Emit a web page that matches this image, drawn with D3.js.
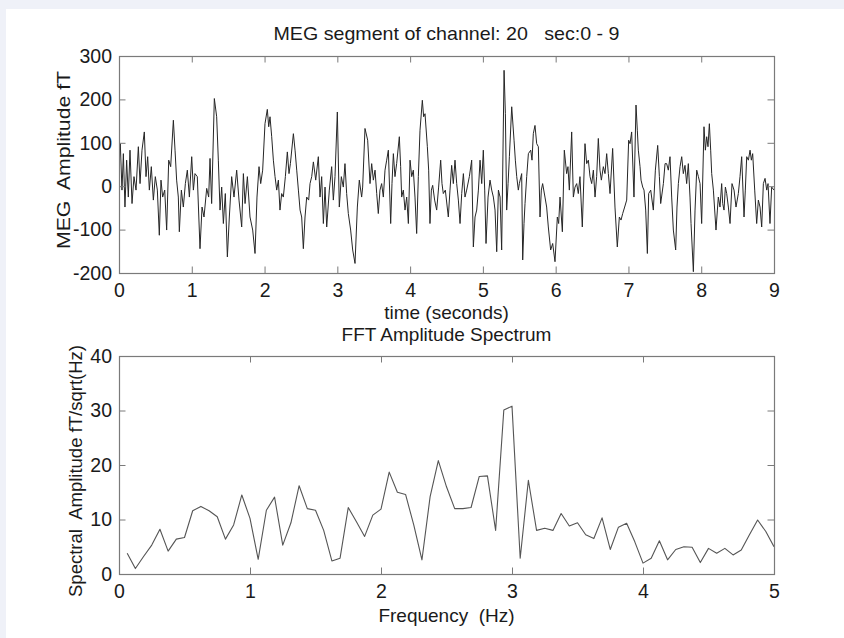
<!DOCTYPE html>
<html><head><meta charset="utf-8">
<script src="https://cdn.jsdelivr.net/npm/d3@7"></script>
<style>
html,body{margin:0;padding:0;background:#eff1f8;}
svg{display:block;font-family:"Liberation Sans",Arial,sans-serif;}
text{white-space:pre;}
</style>
</head><body><svg id="c" width="844" height="638"></svg>
<script>
// ---------- Data ----------
const timeSec = [
0,0.018,0.041,0.06,0.082,0.105,0.128,0.151,0.179,0.206,0.234,0.266,0.289,0.316,0.348,0.371,0.394,0.417,0.444,0.472,
0.499,0.527,0.554,0.577,0.6,0.628,0.655,0.683,0.71,0.747,0.77,0.792,0.815,0.829,0.857,0.884,0.912,0.939,0.967,0.999,
1.022,1.044,1.076,1.113,1.141,1.168,1.205,1.232,1.251,1.273,1.31,1.342,1.365,1.388,1.411,1.434,1.461,1.489,1.516,1.548,
1.58,1.617,1.649,1.686,1.709,1.732,1.764,1.8,1.837,1.869,1.896,1.924,1.947,1.974,2.006,2.038,2.057,2.075,2.098,2.121,
2.144,2.167,2.19,2.212,2.235,2.258,2.286,2.313,2.336,2.355,2.396,2.419,2.442,2.465,2.488,2.51,2.533,2.556,2.579,2.606,
2.625,2.648,2.671,2.703,2.739,2.762,2.785,2.808,2.831,2.854,2.89,2.922,2.945,2.968,3.0,3.027,3.055,3.082,3.105,3.128,
3.151,3.183,3.211,3.243,3.275,3.302,3.334,3.348,3.38,3.417,3.449,3.472,3.495,3.518,3.541,3.563,3.586,3.609,3.632,3.655,
3.678,3.701,3.733,3.751,3.77,3.792,3.815,3.852,3.87,3.884,3.907,3.93,3.953,3.976,3.999,4.022,4.044,4.067,4.09,4.113,
4.136,4.168,4.186,4.205,4.237,4.255,4.273,4.292,4.31,4.337,4.365,4.392,4.42,4.438,4.456,4.484,4.525,4.548,4.571,4.594,
4.617,4.64,4.663,4.686,4.709,4.732,4.754,4.777,4.814,4.846,4.869,4.892,4.915,4.938,4.961,4.984,5.006,5.025,5.043,5.071,
5.098,5.121,5.144,5.167,5.19,5.213,5.236,5.258,5.291,5.309,5.327,5.346,5.364,5.396,5.428,5.446,5.465,5.487,5.501,5.533,
5.547,5.565,5.579,5.602,5.625,5.657,5.675,5.693,5.716,5.739,5.762,5.785,5.803,5.821,5.853,5.876,5.899,5.931,5.959,5.991,
6.023,6.041,6.06,6.092,6.119,6.151,6.169,6.188,6.22,6.243,6.266,6.289,6.311,6.334,6.366,6.403,6.426,6.449,6.472,6.495,
6.518,6.541,6.563,6.586,6.609,6.628,6.655,6.678,6.701,6.724,6.747,6.783,6.815,6.847,6.875,6.898,6.921,6.948,6.976,7.003,
7.022,7.044,7.076,7.104,7.122,7.136,7.159,7.173,7.196,7.214,7.237,7.26,7.278,7.306,7.342,7.37,7.402,7.425,7.443,7.48,
7.503,7.525,7.548,7.571,7.594,7.617,7.649,7.667,7.686,7.709,7.732,7.754,7.777,7.8,7.823,7.846,7.86,7.892,7.915,7.938,
7.961,7.984,8.006,8.038,8.057,8.075,8.093,8.112,8.13,8.144,8.167,8.203,8.222,8.235,8.258,8.281,8.295,8.313,8.332,8.35,
8.373,8.396,8.423,8.451,8.478,8.51,8.533,8.556,8.588,8.606,8.625,8.648,8.671,8.689,8.707,8.735,8.762,8.785,8.808,8.831,
8.854,8.877,8.9,8.918,8.945,8.968,9.0
];
const megAmp = [
45,98,-9,75,-48,60,-25,83,-40,22,-9,91,6,83,125,22,68,-9,45,-32,
22,-9,-113,14,-25,-9,-101,60,45,152,83,14,-25,-105,-9,-48,6,37,-25,68,
-9,29,22,-144,-48,-71,-5,-25,64,-40,202,160,60,-55,-2,-86,-17,-163,-71,22,
-25,37,-32,-94,29,-40,22,-71,-101,-155,-25,45,6,37,144,177,137,160,114,60,
22,-9,14,-55,-17,-25,22,79,29,52,121,83,37,-9,-55,-71,-144,-71,-25,-32,
6,22,56,14,68,-25,22,-86,-2,-94,-9,45,-32,22,171,-48,22,-2,52,-17,
-63,-101,-147,-178,-48,14,-25,-2,133,106,6,52,14,37,-17,-63,-9,6,-25,37,
60,83,-86,6,75,22,52,114,45,-25,-9,-55,-25,-86,60,22,37,-25,-109,22,
129,198,160,167,91,37,-86,-9,2,-32,-55,-2,60,6,-17,-9,-71,-9,48,6,
60,6,-32,-86,-17,29,-25,-9,22,60,-140,-71,-55,-9,60,6,83,-9,-132,-25,
14,-9,-25,-55,-151,-9,-25,-147,267,167,-55,6,68,183,106,60,22,-9,6,29,
-170,-86,-40,22,75,83,60,121,140,98,91,-71,-9,6,-25,-48,-94,-147,-132,-174,
-71,-86,-25,-105,83,29,45,-9,125,-25,-2,6,-17,22,-94,98,52,60,22,6,
37,-25,22,110,37,14,45,29,75,29,-17,87,-48,-140,-71,-78,-63,-48,-32,106,
98,125,-25,187,129,83,45,14,-2,-9,-55,-155,-17,-9,-55,37,94,22,-40,6,
52,52,37,68,-25,-101,-147,-48,6,45,68,29,48,6,52,-25,-86,-197,-55,37,
22,6,-86,137,83,114,91,144,83,29,-9,-101,-55,-25,-48,6,-40,-55,-2,-17,
-48,-86,6,-9,-48,-17,22,68,-71,-9,68,60,83,60,75,-9,-86,-32,-48,-94,
6,18,-9,6,-86,-2,-9
];
const timeTicks = [0,1,2,3,4,5,6,7,8,9];
const ampTicks = [-200,-100,0,100,200,300];

const freqHz = [
0.0625,0.125,0.1875,0.25,0.3125,0.375,0.4375,0.5,0.5625,0.625,0.6875,0.75,0.8125,0.875,0.9375,1.0,
1.0625,1.125,1.1875,1.25,1.3125,1.375,1.4375,1.5,1.5625,1.625,1.6875,1.75,1.8125,1.875,1.9375,2.0,
2.0625,2.125,2.1875,2.25,2.3125,2.375,2.4375,2.5,2.5625,2.625,2.6875,2.75,2.8125,2.875,2.9375,3.0,
3.0625,3.125,3.1875,3.25,3.3125,3.375,3.4375,3.5,3.5625,3.625,3.6875,3.75,3.8125,3.875,3.9375,4.0,
4.0625,4.125,4.1875,4.25,4.3125,4.375,4.4375,4.5,4.5625,4.625,4.6875,4.75,4.8125,4.875,4.9375,5.0
];
const spectralAmp = [
3.8,1.0,3.2,5.3,8.2,4.2,6.4,6.7,11.6,12.4,11.6,10.5,6.4,9.0,14.5,10.2,
2.7,11.7,14.1,5.3,9.4,16.2,12.0,11.7,8.0,2.4,2.9,12.2,9.6,6.9,10.8,11.9,
18.7,15.0,14.6,9.0,2.6,14.2,20.8,16.0,12.0,12.0,12.2,17.9,18.0,8.0,30.1,30.8,
2.9,17.2,8.0,8.4,8.0,11.1,8.8,9.4,7.2,6.5,10.3,4.5,8.6,9.3,5.9,2.0,
2.9,6.1,2.6,4.5,5.0,4.9,2.1,4.7,3.8,4.7,3.5,4.4,7.2,9.9,7.8,5.0
];
const freqTicks = [0,1,2,3,4,5];
const specTicks = [0,10,20,30,40];

// ---------- Drawing ----------
const svg = d3.select('#c');
svg.append('rect').attr('width',844).attr('height',638).attr('fill','#eff1f8');
svg.append('rect').attr('x',6).attr('y',9).attr('width',838).attr('height',629).attr('fill','#ffffff');

const FS = 19, TFS = 19.5, AX = '#7a7a7a', TXT = '#1a1a1a', TL = 6.5;

function panel(o){
  const {left,right,top,bottom} = o;
  const x = d3.scaleLinear().domain(o.xDomain).range([left,right]);
  const y = d3.scaleLinear().domain(o.yDomain).range([bottom,top]);
  const g = svg.append('g');
  const clipId = 'clip'+o.id;
  svg.append('clipPath').attr('id',clipId).append('rect')
    .attr('x',left).attr('y',top).attr('width',right-left).attr('height',bottom-top);

  const line = d3.line().x(d=>x(d[0])).y(d=>y(d[1]));
  g.append('path').datum(o.xs.map((v,i)=>[v,o.ys[i]]))
    .attr('clip-path',`url(#${clipId})`)
    .attr('d',line).attr('fill','none').attr('stroke',o.color).attr('stroke-width',o.width)
    .attr('stroke-linejoin','round');

  const styleAxis = sel => {
    sel.select('.domain').remove();
    sel.selectAll('line').attr('stroke',AX).attr('stroke-width',1);
    sel.selectAll('text').attr('fill',TXT).style('font-size',TFS+'px').style('font-family','"Liberation Sans",Arial,sans-serif');
  };
  g.append('g').attr('transform',`translate(0,${bottom})`)
    .call(d3.axisBottom(x).tickValues(o.xTicks).tickSizeInner(-TL).tickSizeOuter(0).tickPadding(10).tickFormat(d3.format('d')))
    .call(styleAxis);
  g.append('g').attr('transform',`translate(0,${top})`)
    .call(d3.axisTop(x).tickValues(o.xTicks).tickSizeInner(-TL).tickSizeOuter(0).tickFormat(''))
    .call(styleAxis);
  g.append('g').attr('transform',`translate(${left},0)`)
    .call(d3.axisLeft(y).tickValues(o.yTicks).tickSizeInner(-TL).tickSizeOuter(0).tickPadding(7).tickFormat(d=>d<0?'-'+Math.abs(d):d))
    .call(styleAxis);
  g.append('g').attr('transform',`translate(${right},0)`)
    .call(d3.axisRight(y).tickValues(o.yTicks).tickSizeInner(-TL).tickSizeOuter(0).tickFormat(''))
    .call(styleAxis);
  g.append('rect').attr('x',left+0.5).attr('y',top+0.5).attr('width',right-left).attr('height',bottom-top)
    .attr('fill','none').attr('stroke',AX).attr('stroke-width',1.2);

  const cx = (left+right)/2;
  const t = g.append('text').attr('x',cx).attr('y',o.titleY).attr('text-anchor','middle')
    .attr('fill',TXT).style('font-size',FS+'px').text(o.title);
  if (o.titleLen) t.attr('textLength',o.titleLen).attr('lengthAdjust','spacingAndGlyphs');
  g.append('text').attr('x',cx).attr('y',o.xLabelY).attr('text-anchor','middle')
    .attr('fill',TXT).style('font-size',FS+'px').text(o.xLabel);
  const yl = g.append('text').attr('transform',`translate(${o.yLabelX},${o.yLabelCY}) rotate(-90)`)
    .attr('text-anchor','middle').attr('fill',TXT).style('font-size',FS+'px').text(o.yLabel);
  if (o.yLabelLen) yl.attr('textLength',o.yLabelLen).attr('lengthAdjust','spacingAndGlyphs');
}

panel({id:'a', left:119, right:774, top:56, bottom:273,
  xDomain:[0,9], yDomain:[-200,300], xTicks:timeTicks, yTicks:ampTicks,
  xs:timeSec, ys:megAmp, color:'#262626', width:1,
  title:'MEG segment of channel: 20   sec:0 - 9', titleY:40, titleLen:346,
  xLabel:'time (seconds)', xLabelY:319,
  yLabel:'MEG  Amplitude fT', yLabelX:70, yLabelCY:160, yLabelLen:178});

panel({id:'b', left:119, right:774, top:356, bottom:574,
  xDomain:[0,5], yDomain:[0,40], xTicks:freqTicks, yTicks:specTicks,
  xs:freqHz, ys:spectralAmp, color:'#555555', width:1.1,
  title:'FFT Amplitude Spectrum', titleY:341,
  xLabel:'Frequency  (Hz)', xLabelY:622,
  yLabel:'Spectral  Amplitude fT/sqrt(Hz)', yLabelX:82, yLabelCY:471, yLabelLen:252});
</script>
</body></html>
